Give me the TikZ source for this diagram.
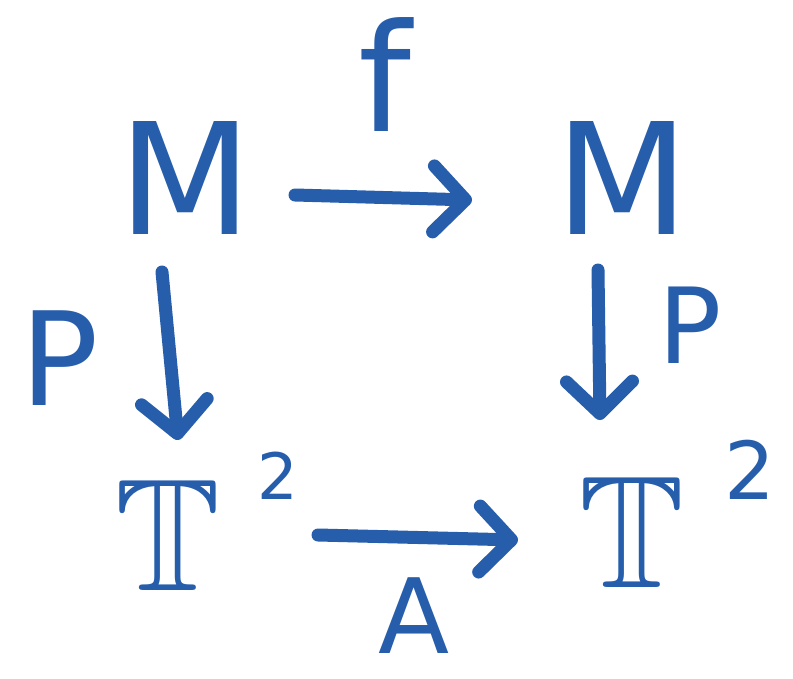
\documentclass[tikz,border=0pt]{standalone}
\usepackage{amssymb}
\usepackage{fontspec}
\setmainfont{DejaVu Sans}
\usetikzlibrary{arrows.meta}
\definecolor{ink}{RGB}{38,94,172}
\tikzset{
  lbl/.style={text=ink, inner sep=0pt},
  arr/.style={draw=ink, line width=13pt, line cap=round, line join=round,
    -{Straight Barb[length=32pt,width=66pt,line width=13pt,round]}}
}
\begin{document}
\begin{tikzpicture}[x=1pt,y=1pt]
\useasboundingbox (0,0) rectangle (793,-678);
\node[lbl, font=\fontsize{155}{155}\selectfont] (ML) at (185,-178) {M};
\node[lbl, font=\fontsize{155}{155}\selectfont] (MR) at (622,-178) {M};
\node[lbl] (TL) at (168,-535) {\fontsize{160}{160}\selectfont$\mathbb{T}$};
\node[lbl] (TR) at (632,-532) {\fontsize{160}{160}\selectfont$\mathbb{T}$};
\node[lbl, font=\fontsize{64}{64}\selectfont] (sL) at (278,-476) {2};
\node[lbl, font=\fontsize{80}{80}\selectfont] (sR) at (750,-470) {2};
\node[lbl, font=\fontsize{150}{150}\selectfont] (f) at (385,-75) {f};
\node[lbl, font=\fontsize{104}{104}\selectfont] (A) at (414,-616) {A};
\node[lbl, font=\fontsize{130}{130}\selectfont] (pL) at (60,-358) {P};
\node[lbl, font=\fontsize{105}{105}\selectfont] (pR) at (690,-325) {P};
\coordinate (a1) at (295,-195);
\coordinate (a2) at (472,-200);
\coordinate (b1) at (162,-272);
\coordinate (b2) at (178,-440);
\coordinate (c1) at (598,-270);
\coordinate (c2) at (600,-420);
\coordinate (d1) at (318,-535);
\coordinate (d2) at (518,-540);
\draw[arr] (a1) -- (a2);
\draw[arr] (b1) -- (b2);
\draw[arr] (c1) -- (c2);
\draw[arr] (d1) -- (d2);
\end{tikzpicture}
\end{document}
